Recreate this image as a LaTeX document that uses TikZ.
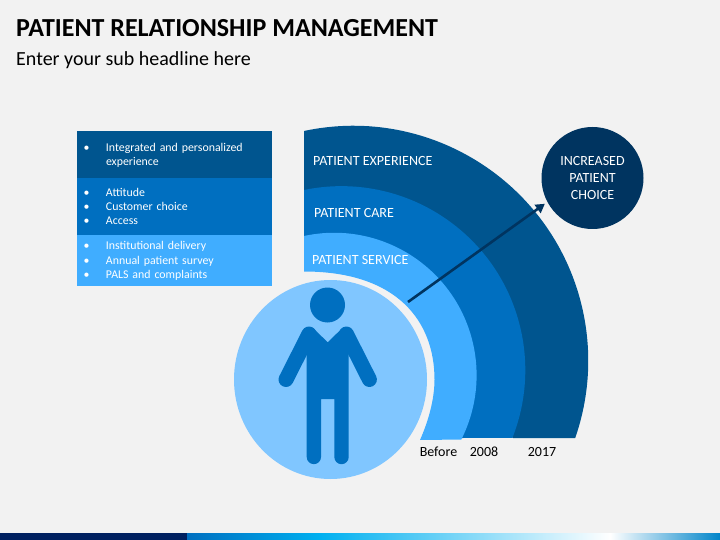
\documentclass[tikz,border=0pt]{standalone}
\usepackage{fontspec}
\usepackage{array}
\setmainfont{Carlito}
\usetikzlibrary{arrows.meta,shapes.geometric}
\definecolor{pagegray}{HTML}{F2F2F2}
\definecolor{navyblue}{HTML}{003460}
\definecolor{deepblue}{HTML}{00558F}
\definecolor{midblue}{HTML}{006FC0}
\definecolor{skyblue}{HTML}{40ADFF}
\definecolor{paleblue}{HTML}{80C6FF}
\definecolor{stripnavy}{HTML}{002060}
\definecolor{stripcyan}{HTML}{00B0F0}
\tikzset{
  listbox/.style={anchor=north west,inner sep=0pt,outer sep=0pt,text width=194.5pt,text=white,font=\fontsize{11.85}{14.4}\selectfont,align=left},
  arclabel/.style={anchor=west,inner sep=0pt,text=white,font=\fontsize{14.05}{16.8}\selectfont},
  yearlabel/.style={anchor=center,inner sep=0pt,text=black,font=\fontsize{14}{16}\selectfont},
}
\newcommand{\listrows}[1]{\raisebox{-1.2pt}[\height][\depth]{\begin{tabular}{@{\hspace{6.5pt}}p{22.5pt}@{}l@{}}#1\end{tabular}}}
\begin{document}
\begin{tikzpicture}[x=1pt,y=-1pt]
\useasboundingbox (0,0) rectangle (720,540);
\fill[pagegray] (0,0) rectangle (720,540);
%%% The headline
\node[anchor=west,inner sep=0pt,font=\bfseries\fontsize{26}{30}\selectfont] (headline) at (16,28.5) {PATIENT RELATIONSHIP MANAGEMENT};
\node[anchor=west,inner sep=0pt,font=\fontsize{20}{24}\selectfont] (subline) at (16,60) {Enter your sub headline here};
%%% The list on the left
\node[listbox,fill=deepblue,minimum height=47pt] (boxone) at (77,131) {\listrows{\textbullet & Integrated and personalized\\ & experience}};
\node[listbox,fill=midblue,minimum height=57pt] (boxtwo) at (77,178) {\listrows{\textbullet & Attitude\\ \textbullet & Customer choice\\ \textbullet & Access}};
\node[listbox,fill=skyblue,minimum height=50.5pt,text width=195pt] (boxthree) at (77,235) {\listrows{\textbullet & Institutional delivery\\ \textbullet & Annual patient survey\\ \textbullet & PALS and complaints}};
%%% The three bands
\fill[deepblue] (304,131) arc[start angle=-102.1,end angle=19.2,radius=235] -- (513,438) -- (450,376) -- (420,290) -- (340,252) -- (304,255) -- cycle;
\fill[midblue] (304,190) arc[start angle=-101.7,end angle=21.6,radius=184] -- (462,438) -- (450,376) -- (420,290) -- (340,252) -- (304,255) -- cycle;
\fill[skyblue] (304,236) arc[start angle=-102.2,end angle=26.8,radius=142.5] -- (420,440)
  .. controls (428,422) and (434.5,400) .. (434.5,379.5)
  .. controls (434.5,322) and (398,271.5) .. (304,271.5) -- cycle;
%%% The person
\node[ellipse,fill=paleblue,minimum width=193pt,minimum height=199pt,inner sep=0pt] (patient) at (330.5,379.5) {};
\node[circle,fill=midblue,minimum size=35pt,inner sep=0pt] (head) at (327.5,305) {};
\fill[midblue] (306.7,335) -- (313,328) -- (327.7,342.3) -- (342.4,328) -- (348.7,335) -- (348.7,457)
  arc[start angle=0,end angle=180,radius=7.2] -- (334.3,399) -- (321,399) -- (321,457)
  arc[start angle=0,end angle=180,radius=7.15] -- cycle;
\draw[midblue,line width=15pt,line cap=round] (309,334) -- (286,379.5);
\draw[midblue,line width=15pt,line cap=round] (346.4,334) -- (369.4,379.5);
%%% The band labels
\node[arclabel] (experience) at (313,161) {PATIENT EXPERIENCE};
\node[arclabel] (care) at (314,213) {PATIENT CARE};
\node[arclabel] (service) at (312,259.5) {PATIENT SERVICE};
\node[yearlabel] (before) at (438.5,452) {Before};
\node[yearlabel] (yeareight) at (484,452) {2008};
\node[yearlabel] (yearseventeen) at (542,452) {2017};
%%% The goal and the arrow to it
\node[circle,fill=navyblue,minimum size=102pt,inner sep=0pt,text=white,align=center,font=\fontsize{14}{16.8}\selectfont] (choice) at (592.5,178) {INCREASED\\PATIENT\\CHOICE};
\coordinate (arrowstart) at (408,302);
\draw[navyblue,line width=2.6pt,shorten >=3pt,-{Triangle[length=9pt,width=10pt]}] (arrowstart) -- (choice.208);
%%% The strip at the bottom
\fill[stripnavy] (0,533) rectangle (187,540);
\fill[left color=midblue,right color=stripcyan] (187,533) rectangle (320,540);
\fill[left color=stripcyan,right color=white] (320,533) rectangle (610,540);
\fill[left color=white,right color=midblue!85!cyan] (610,533) rectangle (720,540);
\end{tikzpicture}
\end{document}
